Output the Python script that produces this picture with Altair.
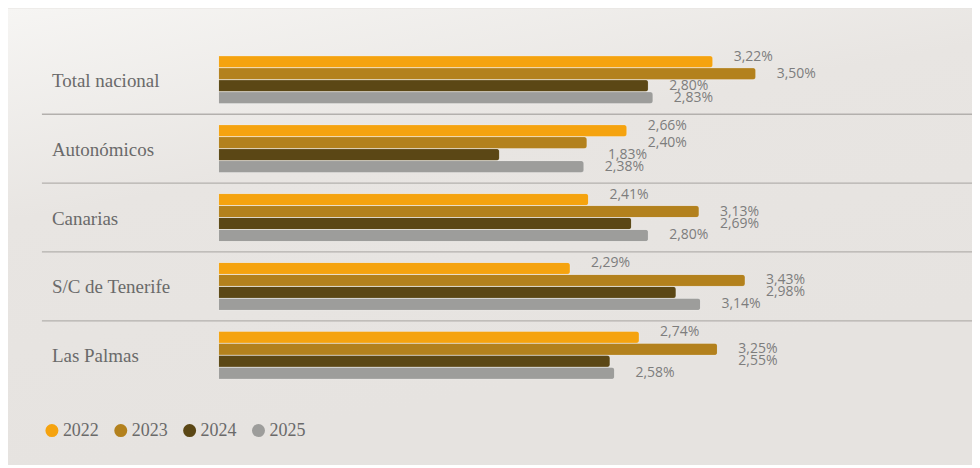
import altair as alt
import pandas as pd

categories = ["Total nacional", "Autonómicos", "Canarias", "S/C de Tenerife", "Las Palmas"]
years = ["2022", "2023", "2024", "2025"]
v2022 = [3.22, 2.66, 2.41, 2.29, 2.74]
v2023 = [3.50, 2.40, 3.13, 3.43, 3.25]
v2024 = [2.80, 1.83, 2.69, 2.98, 2.55]
v2025 = [2.83, 2.38, 2.80, 3.14, 2.58]
# which bar's end each value label sits next to (labels shifted to avoid overlap)
label_ref = [
    ["2022", "2023", "2024", "2025"],
    ["2022", "2022", "2023", "2025"],
    ["2022", "2023", "2023", "2025"],
    ["2022", "2023", "2023", "2025"],
    ["2022", "2023", "2023", "2025"],
]
colors = ["#f5a30f", "#b3811d", "#5b4715", "#9d9d9b"]

series = {"2022": v2022, "2023": v2023, "2024": v2024, "2025": v2025}
rows = []
for i, c in enumerate(categories):
    for j, y in enumerate(years):
        v = series[y][i]
        ref = label_ref[i][j]
        rows.append({
            "category": c,
            "year": y,
            "value": v,
            "anchor": series[ref][i],
            "label": f"{v:.2f}".replace(".", ",") + "%",
        })
df = pd.DataFrame(rows)
cat_df = pd.DataFrame({"category": categories})

W = 753
H = 345
xscale = alt.Scale(domain=[0, W / 153.8], nice=False, zero=True)
yscale = alt.Scale(domain=categories, paddingInner=0, paddingOuter=0)
yoff = alt.Scale(domain=years, paddingInner=0, paddingOuter=0.875)

bg = alt.Chart(alt.Data(values=[{}])).mark_rect(
    color=alt.Gradient(
        gradient="linear", x1=0, y1=0, x2=0.35, y2=0.9,
        stops=[alt.GradientStop(color="#f6f5f3", offset=0),
               alt.GradientStop(color="#e8e5e2", offset=0.45),
               alt.GradientStop(color="#e6e3e0", offset=1)],
    )
).encode(x=alt.value(-211), x2=alt.value(W + 3), y=alt.value(-37), y2=alt.value(H + 75))

base = alt.Chart(df)

bars = base.mark_bar(cornerRadiusEnd=3, stroke="#ffffff", strokeOpacity=0.3, strokeWidth=0.6).encode(
    x=alt.X("value:Q", scale=xscale, axis=None),
    y=alt.Y("category:N", scale=yscale, sort=categories, axis=None),
    yOffset=alt.YOffset("year:N", scale=yoff, sort=years),
    color=alt.Color("year:N", scale=alt.Scale(domain=years, range=colors),
                    legend=alt.Legend(title=None, orient="none", legendX=-176, legendY=377,
                                      direction="horizontal", symbolType="circle",
                                      symbolSize=170, symbolStrokeWidth=0,
                                      labelFont="Liberation Serif", labelFontSize=18,
                                      labelColor="#6a6a6a", labelOffset=2,
                                      columnPadding=13)),
)

def labels(filt, dy):
    return base.transform_filter(filt).mark_text(
        align="left", baseline="middle", dx=21, dy=dy,
        font="Open Sans", fontSize=14, color="#7d7d7d"
    ).encode(
        x=alt.X("anchor:Q", scale=xscale, axis=None),
        y=alt.Y("category:N", scale=yscale, sort=categories, axis=None),
        yOffset=alt.YOffset("year:N", scale=yoff, sort=years),
        text="label:N",
    )

lab1 = labels(alt.datum.year == "2022", -5)
lab2 = labels(alt.datum.year != "2022", 0)

cat_labels = alt.Chart(cat_df).mark_text(
    align="left", baseline="middle", dy=1, font="Liberation Serif", fontSize=19, color="#6a6a6a"
).encode(
    y=alt.Y("category:N", scale=yscale, sort=categories, axis=None),
    x=alt.value(-167),
    text="category:N",
)

seps = alt.Chart(alt.Data(values=[{"category": c} for c in categories[:-1]])).mark_rule(
    color="#b3b0ad", strokeWidth=1.3
).encode(
    y=alt.Y("category:N", scale=yscale, sort=categories, bandPosition=1, axis=None),
    x=alt.value(-177), x2=alt.value(W + 5),
)

chart = alt.layer(bg, seps, bars, lab1, lab2, cat_labels).properties(
    width=W, height=H,
    autosize="none",
    padding={"left": 211, "top": 37, "right": 2, "bottom": 75},
    background="#e6e3e0",
).configure_view(stroke=None)

chart.save("out.html", embed_options={"renderer": "svg", "actions": False})
